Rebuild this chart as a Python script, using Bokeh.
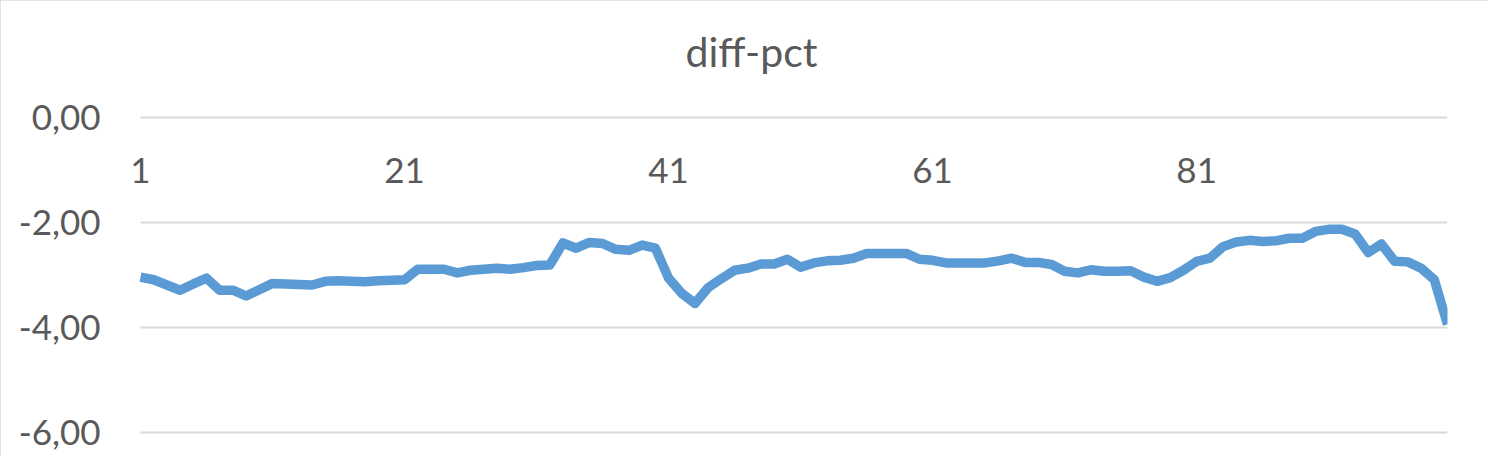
from bokeh.plotting import figure
from bokeh.models import Range1d, FixedTicker, CustomJSTickFormatter, Title
from bokeh.core.properties import value
from bokeh.embed import file_html
from bokeh.resources import INLINE

title_text = "diff-pct"
x_idx = list(range(1, 101))
diff_pct = [-3.04, -3.09, -3.19, -3.29, -3.17, -3.06, -3.29, -3.29, -3.40, -3.28,
            -3.16, -3.17, -3.18, -3.19, -3.12, -3.11, -3.12, -3.13, -3.11, -3.10,
            -3.09, -2.89, -2.89, -2.89, -2.96, -2.91, -2.89, -2.87, -2.89, -2.86,
            -2.82, -2.81, -2.39, -2.49, -2.38, -2.40, -2.51, -2.53, -2.43, -2.49,
            -3.06, -3.35, -3.54, -3.24, -3.07, -2.91, -2.87, -2.79, -2.79, -2.70,
            -2.85, -2.77, -2.73, -2.72, -2.68, -2.59, -2.59, -2.59, -2.59, -2.70,
            -2.72, -2.77, -2.77, -2.77, -2.77, -2.73, -2.68, -2.76, -2.76, -2.80,
            -2.93, -2.96, -2.90, -2.93, -2.93, -2.92, -3.04, -3.12, -3.05, -2.91,
            -2.74, -2.68, -2.46, -2.37, -2.34, -2.36, -2.35, -2.30, -2.30, -2.17,
            -2.13, -2.13, -2.22, -2.57, -2.41, -2.74, -2.75, -2.87, -3.09, -3.94]
x_tick_pos = [1, 21, 41, 61, 81]
x_tick_labels = ["1", "21", "41", "61", "81"]
y_ticks = [-6, -4, -2, 0]

FONT = "Lato"
TXT = "#595959"
GRID = "#D9D9D9"

# layout (pixels)
PX_X = 13.2          # pixels per category step
PX_Y = 52.5          # pixels per y unit
LEFT_PAD_PX = 13     # room for the first category label inside the frame
Y_PAD_PX = 3         # room so edge gridlines are not clipped

x_start = x_idx[0] - LEFT_PAD_PX / PX_X
y_lo = min(y_ticks) - Y_PAD_PX / PX_Y
y_hi = max(y_ticks) + Y_PAD_PX / PX_Y

p = figure(width=1488, height=456, output_backend="svg", toolbar_location=None,
           x_range=Range1d(x_start, x_idx[-1]), y_range=Range1d(y_lo, y_hi),
           min_border_left=127, min_border_right=41, min_border_top=114,
           min_border_bottom=21, title_location=None)
p.styles = {"outline": "2px solid #D9D9D9", "outline-offset": "-2px"}
p.outline_line_color = None
p.background_fill_color = "white"
p.border_fill_color = "white"

# spacer panel (closest to the plot area) so the chart title sits higher
spacer = Title(text=" ", text_font_size="1px", standoff=36)
main_title = Title(text=title_text, align="left", offset=558, text_font=FONT,
                   text_font_size="41px", text_font_style="normal",
                   text_color=TXT, standoff=0)
p.add_layout(spacer, "above")
p.add_layout(main_title, "above")

p.xaxis.visible = False
p.xgrid.visible = False
p.ygrid.visible = False

ya = p.yaxis[0]
ya.ticker = FixedTicker(ticks=y_ticks)
ya.formatter = CustomJSTickFormatter(code="return tick.toFixed(2).replace('.', ',');")
ya.axis_line_color = None
ya.major_tick_line_color = None
ya.minor_tick_line_color = None
ya.major_tick_out = 0
ya.major_tick_in = 0
ya.major_label_standoff = 27
ya.major_label_text_font = FONT
ya.major_label_text_font_size = "35px"
ya.major_label_text_color = TXT

# horizontal gridlines spanning the category extent
p.segment(x0=[x_idx[0]] * len(y_ticks), x1=[x_idx[-1]] * len(y_ticks),
          y0=y_ticks, y1=y_ticks, line_color=GRID, line_width=2)

p.line(x_idx, diff_pct, line_color="#5B9BD5", line_width=9.5, line_join="round", line_cap="butt")

p.text(x=x_tick_pos, y=[0] * len(x_tick_pos), text=x_tick_labels, y_offset=53,
       text_align="center", text_baseline="middle", text_font=value(FONT),
       text_font_size="35px", text_color=TXT)

open("out.html", "w").write(file_html(p, INLINE))
